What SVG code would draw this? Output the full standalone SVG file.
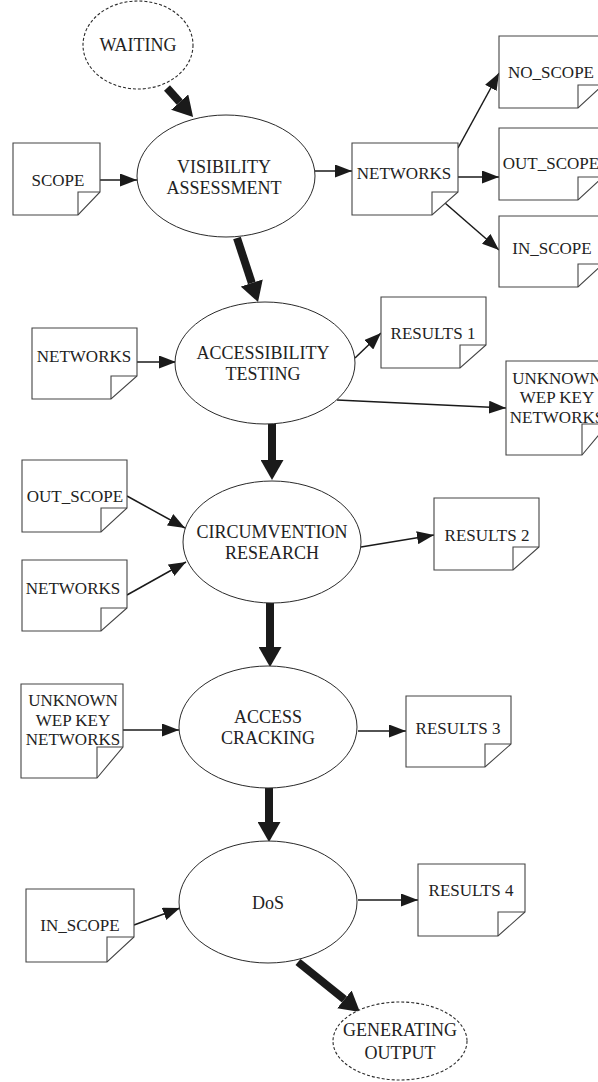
<svg xmlns="http://www.w3.org/2000/svg" width="598" height="1082" viewBox="0 0 598 1082">
  <defs>
    <!-- thin arrowhead: tip sits on the line end -->
    <marker id="arrow" markerUnits="userSpaceOnUse" markerWidth="18" markerHeight="13" refX="17" refY="6.5" orient="auto">
      <path d="M0,0 L17,6.5 L0,13 z" fill="#1a1a1a"/>
    </marker>
    <!-- heavy arrowhead: base sits on the (shortened) line end -->
    <marker id="bigarrow" markerUnits="userSpaceOnUse" markerWidth="21" markerHeight="23" refX="0" refY="11.5" orient="auto">
      <path d="M0,0 L20,11.5 L0,23 z" fill="#1a1a1a"/>
    </marker>
  </defs>
  <style>
    .proc { fill: #fff; stroke: #2a2a2a; stroke-width: 1; }
    .state { fill: #fff; stroke: #2a2a2a; stroke-width: 1.1; stroke-dasharray: 3 2; }
    .doc { fill: #fff; stroke: #444; stroke-width: 1.1; }
    .fold { fill: none; stroke: #444; stroke-width: 1.1; }
    .thin { stroke: #1a1a1a; stroke-width: 1.5; fill: none; marker-end: url(#arrow); }
    .thick { stroke: #1a1a1a; stroke-width: 8; fill: none; marker-end: url(#bigarrow); }
    text { font-family: "Liberation Serif", "Times New Roman", serif; font-size: 18px; fill: #222; text-anchor: middle; }
    .d { font-size: 17px; }
  </style>

  <rect width="598" height="1082" fill="#fff"/>

  <!-- connectors -->
  <g id="connectors">
    <line class="thick" x1="167" y1="88" x2="179.7" y2="102.1"/>
    <line class="thick" x1="237" y1="238" x2="251.8" y2="283"/>
    <line class="thick" x1="272" y1="424" x2="272" y2="460"/>
    <line class="thick" x1="270" y1="603" x2="270" y2="647"/>
    <line class="thick" x1="269" y1="788" x2="269" y2="822"/>
    <line class="thick" x1="298" y1="962" x2="344.4" y2="999.4"/>

    <line class="thin" x1="100" y1="180" x2="137" y2="180"/>
    <line class="thin" x1="315" y1="171" x2="352" y2="171"/>
    <line class="thin" x1="458" y1="148" x2="499" y2="73"/>
    <line class="thin" x1="458" y1="177" x2="499" y2="177"/>
    <line class="thin" x1="445" y1="203" x2="499" y2="250"/>
    <line class="thin" x1="137" y1="362" x2="176" y2="362"/>
    <line class="thin" x1="355" y1="358" x2="381" y2="333"/>
    <line class="thin" x1="337" y1="400" x2="506" y2="408"/>
    <line class="thin" x1="127" y1="496" x2="185" y2="528"/>
    <line class="thin" x1="127" y1="595" x2="186" y2="562"/>
    <line class="thin" x1="361" y1="547" x2="434" y2="535"/>
    <line class="thin" x1="123" y1="730" x2="179" y2="730"/>
    <line class="thin" x1="358" y1="731" x2="406" y2="731"/>
    <line class="thin" x1="134" y1="925" x2="180" y2="908"/>
    <line class="thin" x1="358" y1="900" x2="418" y2="900"/>
  </g>

  <!-- states -->
  <g id="waiting">
    <ellipse class="state" cx="138" cy="45" rx="55" ry="44"/>
    <text x="138" y="51">WAITING</text>
  </g>
  <g id="generating-output">
    <ellipse class="state" cx="400" cy="1041" rx="67" ry="39"/>
    <text x="400" y="1036">GENERATING</text>
    <text x="400" y="1059">OUTPUT</text>
  </g>

  <!-- processes -->
  <g id="visibility-assessment">
    <ellipse class="proc" cx="226" cy="176" rx="89" ry="61"/>
    <text x="224" y="173">VISIBILITY</text>
    <text x="224" y="194">ASSESSMENT</text>
  </g>
  <g id="accessibility-testing">
    <ellipse class="proc" cx="265" cy="363" rx="90" ry="61"/>
    <text x="263" y="359">ACCESSIBILITY</text>
    <text x="263" y="380">TESTING</text>
  </g>
  <g id="circumvention-research">
    <ellipse class="proc" cx="272" cy="542" rx="89" ry="61"/>
    <text x="272" y="538">CIRCUMVENTION</text>
    <text x="272" y="559">RESEARCH</text>
  </g>
  <g id="access-cracking">
    <ellipse class="proc" cx="268" cy="727" rx="89" ry="61"/>
    <text x="268" y="723">ACCESS</text>
    <text x="268" y="744">CRACKING</text>
  </g>
  <g id="dos">
    <ellipse class="proc" cx="268" cy="902" rx="89" ry="61"/>
    <text x="268" y="909">DoS</text>
  </g>

  <!-- documents -->
  <g id="scope">
    <polygon class="doc" points="13,143 100,143 100,192 78,215 13,215"/>
    <path class="fold" d="M78,215 V192 H100"/>
    <text class="d" x="58" y="186">SCOPE</text>
  </g>
  <g id="networks-1">
    <polygon class="doc" points="352,143 458,143 458,192 432,215 352,215"/>
    <path class="fold" d="M432,215 V192 H458"/>
    <text class="d" x="404" y="179">NETWORKS</text>
  </g>
  <g id="no-scope">
    <polygon class="doc" points="499,36 603,36 603,85 578,108 499,108"/>
    <path class="fold" d="M578,108 V85 H603"/>
    <text class="d" x="551" y="78">NO_SCOPE</text>
  </g>
  <g id="out-scope-1">
    <polygon class="doc" points="499,128 603,128 603,177 578,200 499,200"/>
    <path class="fold" d="M578,200 V177 H603"/>
    <text class="d" x="551" y="169">OUT_SCOPE</text>
  </g>
  <g id="in-scope-1">
    <polygon class="doc" points="499,216 603,216 603,264 578,287 499,287"/>
    <path class="fold" d="M578,287 V264 H603"/>
    <text class="d" x="552" y="254">IN_SCOPE</text>
  </g>
  <g id="networks-2">
    <polygon class="doc" points="32,328 137,328 137,376 111,399 32,399"/>
    <path class="fold" d="M111,399 V376 H137"/>
    <text class="d" x="84" y="362">NETWORKS</text>
  </g>
  <g id="results-1">
    <polygon class="doc" points="381,297 486,297 486,345 460,368 381,368"/>
    <path class="fold" d="M460,368 V345 H486"/>
    <text class="d" x="433" y="339">RESULTS 1</text>
  </g>
  <g id="unknown-wep-1">
    <polygon class="doc" points="506,361 608,361 608,424 582,455 506,455"/>
    <path class="fold" d="M582,455 V424 H608"/>
    <text class="d" x="557" y="384">UNKNOWN</text>
    <text class="d" x="557" y="403">WEP KEY</text>
    <text class="d" x="557" y="423">NETWORKS</text>
  </g>
  <g id="out-scope-2">
    <polygon class="doc" points="22,460 127,460 127,508 101,532 22,532"/>
    <path class="fold" d="M101,532 V508 H127"/>
    <text class="d" x="75" y="502">OUT_SCOPE</text>
  </g>
  <g id="networks-3">
    <polygon class="doc" points="22,560 127,560 127,608 101,631 22,631"/>
    <path class="fold" d="M101,631 V608 H127"/>
    <text class="d" x="73" y="594">NETWORKS</text>
  </g>
  <g id="results-2">
    <polygon class="doc" points="434,498 539,498 539,547 513,570 434,570"/>
    <path class="fold" d="M513,570 V547 H539"/>
    <text class="d" x="487" y="541">RESULTS 2</text>
  </g>
  <g id="unknown-wep-2">
    <polygon class="doc" points="21,684 123,684 123,747 97,778 21,778"/>
    <path class="fold" d="M97,778 V747 H123"/>
    <text class="d" x="73" y="706">UNKNOWN</text>
    <text class="d" x="73" y="726">WEP KEY</text>
    <text class="d" x="73" y="745">NETWORKS</text>
  </g>
  <g id="results-3">
    <polygon class="doc" points="406,696 511,696 511,744 485,767 406,767"/>
    <path class="fold" d="M485,767 V744 H511"/>
    <text class="d" x="458" y="734">RESULTS 3</text>
  </g>
  <g id="results-4">
    <polygon class="doc" points="418,864 525,864 525,912 498,936 418,936"/>
    <path class="fold" d="M498,936 V912 H525"/>
    <text class="d" x="471" y="896">RESULTS 4</text>
  </g>
  <g id="in-scope-2">
    <polygon class="doc" points="26,889 134,889 134,937 107,962 26,962"/>
    <path class="fold" d="M107,962 V937 H134"/>
    <text class="d" x="80" y="931">IN_SCOPE</text>
  </g>
</svg>
